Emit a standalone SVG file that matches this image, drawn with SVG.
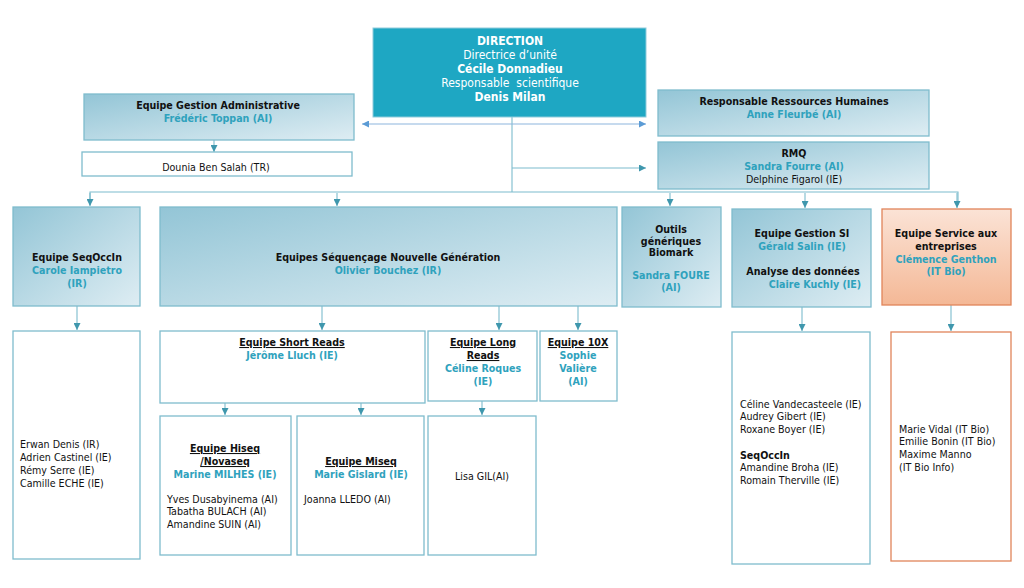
<svg xmlns="http://www.w3.org/2000/svg" width="1024" height="588" viewBox="0 0 1024 588">
<style>
text{font-family:"DejaVu Sans Condensed","DejaVu Sans",Verdana,sans-serif;font-size:10.6px;fill:#111}
.b{font-weight:bold}
.c{text-anchor:middle}
.t{fill:#2fa2bd;font-weight:bold}
.w{fill:#fff;font-size:12px}
.u{text-decoration:underline}
.g{fill:url(#bg);stroke:#7fbccd;stroke-width:1.3}
.o{fill:url(#og);stroke:#e0845a;stroke-width:1.3}
.wb{fill:#fff;stroke:#7fbccd;stroke-width:1.3}
.wo{fill:#fff;stroke:#e0845a;stroke-width:1.3}
.ln{stroke:#7cbccd;stroke-width:1.1;fill:none}
.bl{stroke:#8db6dd;stroke-width:1.1;fill:none}
</style>
<defs>
<linearGradient id="bg" x1="0" y1="0" x2="1" y2="1">
<stop offset="0" stop-color="#93c5d6"/>
<stop offset="1" stop-color="#deedf3"/>
</linearGradient>
<linearGradient id="og" x1="0" y1="0" x2="0" y2="1">
<stop offset="0" stop-color="#fbe3d6"/>
<stop offset="1" stop-color="#f4b896"/>
</linearGradient>
<marker id="a" viewBox="0 0 10 10" refX="10" refY="5" markerWidth="7" markerHeight="7" orient="auto" markerUnits="userSpaceOnUse">
<path d="M0,0L10,5L0,10z" fill="#3f97ad"/>
</marker>
<marker id="ab" viewBox="0 0 10 10" refX="10" refY="5" markerWidth="7" markerHeight="7" orient="auto-start-reverse" markerUnits="userSpaceOnUse">
<path d="M0,0L10,5L0,10z" fill="#5b9bd5"/>
</marker>
</defs>

<g id="connectors">
<path class="ln" d="M512,82V192"/>
<path class="bl" d="M362,124H646" marker-start="url(#ab)" marker-end="url(#ab)"/>
<path class="ln" d="M512,168H646" marker-end="url(#a)"/>
<path class="ln" d="M214,140V152" marker-end="url(#a)"/>
<path class="ln" d="M90,205V192H958V205"/>
<path class="ln" d="M90,193V206" marker-end="url(#a)"/>
<path class="ln" d="M337,193V206" marker-end="url(#a)"/>
<path class="ln" d="M670,193V206" marker-end="url(#a)"/>
<path class="ln" d="M805,193V208" marker-end="url(#a)"/>
<path class="ln" d="M957,193V208" marker-end="url(#a)"/>
<path class="ln" d="M77,306V330" marker-end="url(#a)"/>
<path class="ln" d="M322,306V330" marker-end="url(#a)"/>
<path class="ln" d="M499,306V330" marker-end="url(#a)"/>
<path class="ln" d="M578,306V330" marker-end="url(#a)"/>
<path class="ln" d="M802,307V331" marker-end="url(#a)"/>
<path class="ln" d="M951,305V331" marker-end="url(#a)"/>
<path class="ln" d="M225,403V415" marker-end="url(#a)"/>
<path class="ln" d="M361,403V415" marker-end="url(#a)"/>
<path class="ln" d="M482,401V415" marker-end="url(#a)"/>
</g>

<g id="direction">
<rect x="373" y="28" width="273" height="89" fill="#1ea7c3" stroke="#8fcbdb" stroke-width="1"/>
<text class="c w b" x="510" y="45">DIRECTION</text>
<text class="c w" x="510" y="59">Directrice d’unité</text>
<text class="c w b" x="510" y="73">Cécile Donnadieu</text>
<text class="c w" x="510" y="87" xml:space="preserve">Responsable  scientifique</text>
<text class="c w b" x="510" y="101">Denis Milan</text>
</g>

<g id="gestion-admin">
<rect class="g" x="84" y="94" width="270" height="46"/>
<text class="c b" x="218" y="109">Equipe Gestion Administrative</text>
<text class="c t" x="218" y="122">Frédéric Toppan (AI)</text>
</g>

<g id="dounia">
<rect class="wb" x="82" y="152" width="270" height="24"/>
<text class="c" x="216" y="171">Dounia Ben Salah (TR)</text>
</g>

<g id="rh">
<rect class="g" x="658" y="90" width="271" height="46"/>
<text class="c b" x="794" y="105">Responsable Ressources Humaines</text>
<text class="c t" x="794" y="118">Anne Fleurbé (AI)</text>
</g>

<g id="rmq">
<rect class="g" x="658" y="142" width="271" height="47"/>
<text class="c b" x="794" y="157">RMQ</text>
<text class="c t" x="794" y="170">Sandra Fourre (AI)</text>
<text class="c" x="794" y="183">Delphine Figarol (IE)</text>
</g>

<g id="seqoccin">
<rect class="g" x="13" y="207" width="127" height="99"/>
<text class="c b" x="77" y="261">Equipe SeqOccIn</text>
<text class="c t" x="77" y="274">Carole Iampietro</text>
<text class="c t" x="77" y="287">(IR)</text>
</g>

<g id="ngs">
<rect class="g" x="160" y="207" width="457" height="99"/>
<text class="c b" x="388" y="261">Equipes Séquençage Nouvelle Génération</text>
<text class="c t" x="388" y="274">Olivier Bouchez (IR)</text>
</g>

<g id="outils">
<rect class="g" x="622" y="207" width="99" height="100"/>
<text class="c b" x="671" y="233">Outils</text>
<text class="c b" x="671" y="245">génériques</text>
<text class="c b" x="671" y="256">Biomark</text>
<text class="c t" x="671" y="279">Sandra FOURE</text>
<text class="c t" x="671" y="291">(AI)</text>
</g>

<g id="gestion-si">
<rect class="g" x="732" y="209" width="139" height="98"/>
<text class="c b" x="802" y="237">Equipe Gestion SI</text>
<text class="c t" x="802" y="250">Gérald Salin (IE)</text>
<text class="c b" x="803" y="275">Analyse des données</text>
<text class="c t" x="815" y="288">Claire Kuchly (IE)</text>
</g>

<g id="service">
<rect class="o" x="882" y="209" width="129" height="96"/>
<text class="c b" x="946" y="237">Equipe Service aux</text>
<text class="c b" x="946" y="250">entreprises</text>
<text class="c t" x="946" y="263">Clémence Genthon</text>
<text class="c t" x="946" y="275">(IT Bio)</text>
</g>

<g id="seqoccin-members">
<rect class="wb" x="13" y="331" width="127" height="228"/>
<text x="20" y="448">Erwan Denis (IR)</text>
<text x="20" y="461">Adrien Castinel (IE)</text>
<text x="20" y="474">Rémy Serre (IE)</text>
<text x="20" y="487">Camille ECHE (IE)</text>
</g>

<g id="short-reads">
<rect class="wb" x="160" y="331" width="265" height="72"/>
<text class="c b u" x="292" y="346">Equipe Short Reads</text>
<text class="c t" x="292" y="359">Jérôme Lluch (IE)</text>
</g>

<g id="long-reads">
<rect class="wb" x="428" y="331" width="109" height="70"/>
<text class="c b u" x="483" y="346">Equipe Long</text>
<text class="c b u" x="483" y="359">Reads</text>
<text class="c t" x="483" y="372">Céline Roques</text>
<text class="c t" x="483" y="385">(IE)</text>
</g>

<g id="tenx">
<rect class="wb" x="540" y="331" width="77" height="70"/>
<text class="c b u" x="578" y="346">Equipe 10X</text>
<text class="c t" x="578" y="359">Sophie</text>
<text class="c t" x="578" y="372">Valière</text>
<text class="c t" x="578" y="385">(AI)</text>
</g>

<g id="hiseq">
<rect class="wb" x="160" y="416" width="131" height="139"/>
<text class="c b u" x="225" y="452">Equipe Hiseq</text>
<text class="c b u" x="225" y="465">/Novaseq</text>
<text class="c t" x="225" y="478">Marine MILHES (IE)</text>
<text x="167" y="503">Yves Dusabyinema (AI)</text>
<text x="167" y="515">Tabatha BULACH (AI)</text>
<text x="167" y="528">Amandine SUIN (AI)</text>
</g>

<g id="miseq">
<rect class="wb" x="297" y="416" width="127" height="139"/>
<text class="c b u" x="361" y="465">Equipe Miseq</text>
<text class="c t" x="361" y="478">Marie Gislard (IE)</text>
<text x="304" y="503">Joanna LLEDO (AI)</text>
</g>

<g id="lisa">
<rect class="wb" x="428" y="416" width="108" height="139"/>
<text class="c" x="482" y="480">Lisa GIL(AI)</text>
</g>

<g id="gestion-si-members">
<rect class="wb" x="732" y="332" width="138" height="232"/>
<text x="740" y="408">Céline Vandecasteele (IE)</text>
<text x="740" y="420">Audrey Gibert (IE)</text>
<text x="740" y="433">Roxane Boyer (IE)</text>
<text class="b" x="740" y="459">SeqOccIn</text>
<text x="740" y="471">Amandine Broha (IE)</text>
<text x="740" y="484">Romain Therville (IE)</text>
</g>

<g id="service-members">
<rect class="wo" x="891" y="332" width="120" height="229"/>
<text x="899" y="433">Marie Vidal (IT Bio)</text>
<text x="899" y="445">Emilie Bonin (IT Bio)</text>
<text x="899" y="458">Maxime Manno</text>
<text x="899" y="471">(IT Bio Info)</text>
</g>
</svg>
